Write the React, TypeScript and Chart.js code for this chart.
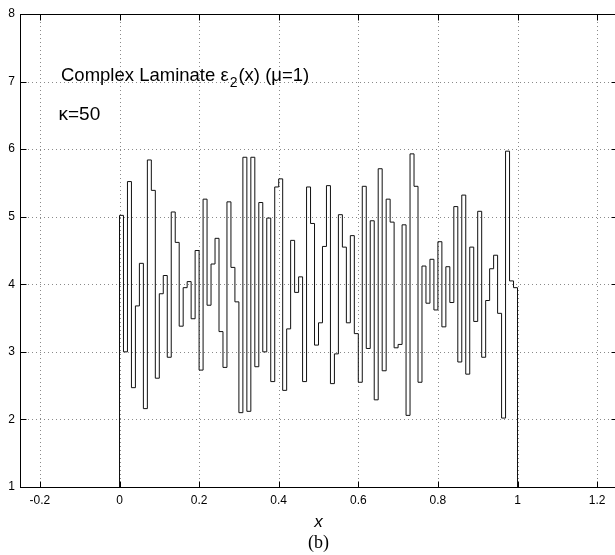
import { useEffect, useRef } from "react";
import { Chart, registerables } from "chart.js";

Chart.register(...registerables);

// Step heights of ε2(x) on [0,1], 100 equal cells
const values = [
  5.02, 3.0, 5.52, 2.47, 3.68, 4.31, 2.16, 5.84, 5.39, 2.61,
  3.86, 4.13, 2.92, 5.07, 4.62, 3.38, 3.95, 4.04, 3.49, 4.5,
  2.73, 5.26, 3.69, 4.3, 4.68, 3.3, 2.77, 5.22, 4.25, 3.74,
  2.1, 5.88, 2.12, 5.88, 2.78, 5.21, 3.0, 4.98, 2.56, 5.44,
  5.56, 2.43, 3.34, 4.65, 3.88, 4.11, 2.56, 5.44, 4.9, 3.1,
  3.43, 4.56, 5.46, 2.53, 2.97, 5.03, 4.55, 3.43, 4.72, 3.27,
  2.55, 5.45, 3.05, 4.94, 2.29, 5.71, 2.72, 5.26, 4.92, 3.06,
  3.11, 4.88, 2.06, 5.93, 5.45, 2.55, 4.27, 3.72, 4.37, 3.62,
  4.63, 3.37, 4.26, 3.73, 5.15, 2.85, 5.32, 2.67, 4.55, 3.45,
  5.08, 2.92, 3.76, 4.23, 4.43, 3.57, 2.02, 5.97, 4.05, 3.95,
];
const domainStart = 0;
const domainEnd = 1;
const baseLevel = 1;
const xTicks = [-0.2, 0, 0.2, 0.4, 0.6, 0.8, 1, 1.2];
const yTicks = [1, 2, 3, 4, 5, 6, 7, 8];
const xMin = -0.25;
const xMax = 1.25;
const yMin = 1;
const yMax = 8;
const titleMain = "Complex Laminate ";
const titleEps = "ε";
const titleSub = "2";
const titleRest = "(x) (μ=1)";
const kappaText = "κ=50";
const xLabel = "x";
const captionText = "(b)";

const SANS = '"Liberation Sans", Arial, Helvetica, sans-serif';
const SERIF = '"Liberation Serif", "Times New Roman", serif';

export default function App() {
  const ref = useRef<HTMLCanvasElement>(null);

  useEffect(() => {
    const N = values.length;
    const span = domainEnd - domainStart;
    const pts = [
      { x: domainStart, y: baseLevel },
      ...values.map((v, i) => ({ x: domainStart + (i * span) / N, y: v })),
      { x: domainEnd, y: values[N - 1] },
      { x: domainEnd, y: baseLevel },
    ];

    const decor = {
      id: "decor",
      beforeDatasetsDraw(chart: any) {
        const { ctx, chartArea: a, scales } = chart;
        ctx.save();
        ctx.strokeStyle = "#8a8a8a";
        ctx.lineWidth = 1;
        ctx.setLineDash([1, 3]);
        for (const t of xTicks) {
          const px = Math.round(scales.x.getPixelForValue(t)) + 0.5;
          ctx.beginPath();
          ctx.moveTo(px, a.top);
          ctx.lineTo(px, a.bottom);
          ctx.stroke();
        }
        for (const t of yTicks) {
          const py = Math.round(scales.y.getPixelForValue(t)) + 0.5;
          ctx.beginPath();
          ctx.moveTo(a.left, py);
          ctx.lineTo(a.right, py);
          ctx.stroke();
        }
        ctx.restore();
      },
      afterDraw(chart: any) {
        const { ctx, chartArea: a, scales } = chart;
        ctx.save();
        ctx.strokeStyle = "#000";
        ctx.lineWidth = 1;
        ctx.setLineDash([]);
        const L = Math.round(a.left) + 0.5;
        const R = Math.round(a.right) + 0.5;
        const T = Math.round(a.top) + 0.5;
        const B = Math.round(a.bottom) + 0.5;
        ctx.strokeRect(L, T, R - L, B - T);
        const tl = 6;
        ctx.beginPath();
        for (const t of xTicks) {
          const px = Math.round(scales.x.getPixelForValue(t)) + 0.5;
          ctx.moveTo(px, B);
          ctx.lineTo(px, B - tl);
          ctx.moveTo(px, T);
          ctx.lineTo(px, T + tl);
        }
        for (const t of yTicks) {
          const py = Math.round(scales.y.getPixelForValue(t)) + 0.5;
          ctx.moveTo(L, py);
          ctx.lineTo(L + tl, py);
          ctx.moveTo(R, py);
          ctx.lineTo(R - tl, py);
        }
        ctx.stroke();

        // annotations
        ctx.fillStyle = "#000";
        ctx.textAlign = "left";
        ctx.textBaseline = "alphabetic";
        let x0 = a.left + 41;
        const by = 81;
        ctx.font = `18.5px ${SANS}`;
        ctx.fillText(titleMain, x0, by);
        x0 += ctx.measureText(titleMain).width;
        ctx.fillText(titleEps, x0, by);
        x0 += ctx.measureText(titleEps).width + 1;
        ctx.font = `14px ${SANS}`;
        ctx.fillText(titleSub, x0, by + 6);
        x0 += ctx.measureText(titleSub).width + 1;
        ctx.font = `18.5px ${SANS}`;
        ctx.fillText(titleRest, x0, by);

        ctx.font = `19px ${SANS}`;
        ctx.fillText(kappaText, a.left + 38.5, 120);

        // x axis label
        const cx = scales.x.getPixelForValue(0.5);
        ctx.textAlign = "center";
        ctx.textBaseline = "middle";
        ctx.font = `italic 17px ${SANS}`;
        ctx.fillText(xLabel, cx, 522);
        ctx.font = `18px ${SERIF}`;
        ctx.fillText(captionText, cx, 543);
        ctx.restore();
      },
    };

    const chart = new Chart(ref.current as HTMLCanvasElement, {
      type: "line",
      data: {
        datasets: [
          {
            data: pts,
            stepped: "before",
            borderColor: "#111",
            borderWidth: 1,
            pointRadius: 0,
            fill: false,
          },
        ],
      },
      options: {
        responsive: false,
        animation: false,
        devicePixelRatio: 1,
        layout: { padding: { top: 14, right: 3, left: 0, bottom: 0 } },
        plugins: {
          legend: { display: false },
          tooltip: { enabled: false },
        },
        scales: {
          x: {
            type: "linear",
            min: xMin,
            max: xMax,
            afterBuildTicks: (s: any) => {
              s.ticks = xTicks.map((v) => ({ value: v }));
            },
            afterFit: (s: any) => {
              s.height = 68;
            },
            grid: { display: false, drawTicks: false },
            border: { display: false },
            ticks: {
              autoSkip: false,
              maxRotation: 0,
              padding: 6,
              color: "#000",
              font: { family: SANS, size: 12 },
              callback: (v: any) => String(v),
            },
          },
          y: {
            type: "linear",
            min: yMin,
            max: yMax,
            afterBuildTicks: (s: any) => {
              s.ticks = yTicks.map((v) => ({ value: v }));
            },
            afterFit: (s: any) => {
              s.width = 20;
            },
            grid: { display: false, drawTicks: false },
            border: { display: false },
            ticks: {
              autoSkip: false,
              padding: 5,
              color: "#000",
              font: { family: SANS, size: 12 },
              callback: (v: any) => String(v),
            },
          },
        },
      },
      plugins: [decor],
    });
    return () => chart.destroy();
  }, []);

  return (
    <div
      style={{
        position: "absolute",
        left: 0,
        top: 0,
        width: 615,
        height: 555,
        overflow: "hidden",
        background: "#fff",
      }}
    >
      <canvas
        ref={ref}
        width={620}
        height={555}
        style={{ width: 620, height: 555, display: "block" }}
      />
    </div>
  );
}
